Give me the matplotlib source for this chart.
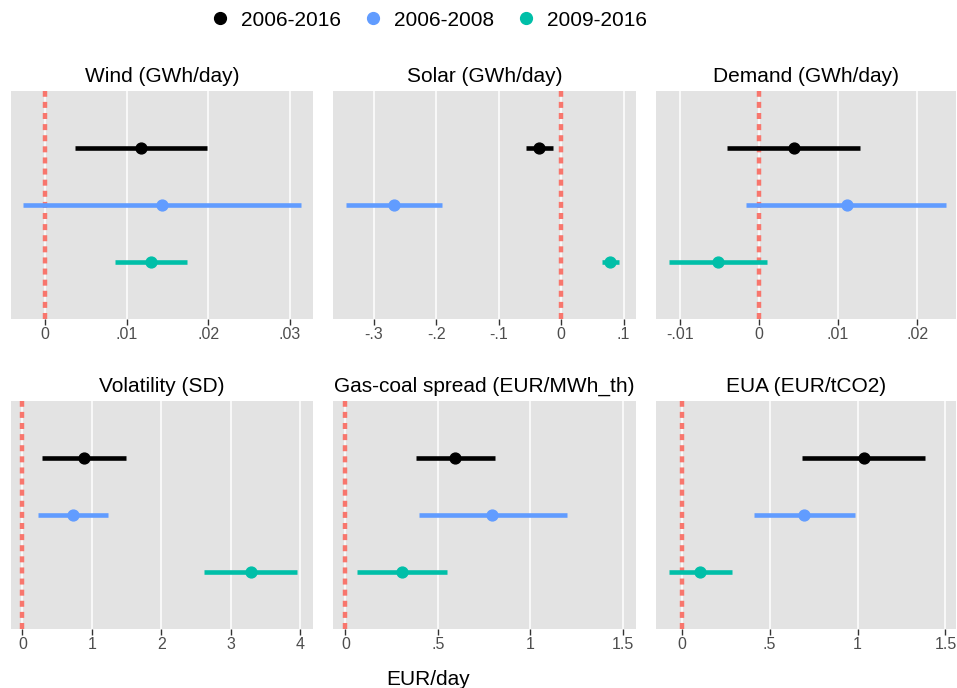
import numpy as np
import matplotlib
matplotlib.use("Agg")
import matplotlib.pyplot as plt
from matplotlib.lines import Line2D

plt.rcParams['font.family'] = ['Liberation Sans', 'DejaVu Sans']

periods = ['2006-2016', '2006-2008', '2009-2016']
period_colors = ['#000000', '#619CFF', '#00BFA8']
period_y = [3, 2, 1]

titles = ['Wind (GWh/day)', 'Solar (GWh/day)', 'Demand (GWh/day)',
          'Volatility (SD)', 'Gas-coal spread (EUR/MWh_th)', 'EUA (EUR/tCO2)']

# point estimate, lower and upper bound, one value per period
wind_est = [0.01175, 0.01428, 0.01294]
wind_lo = [0.00367, -0.00273, 0.00853]
wind_hi = [0.0198, 0.0313, 0.01734]

solar_est = [-0.0352, -0.267, 0.078]
solar_lo = [-0.056, -0.3445, 0.065]
solar_hi = [-0.0123, -0.19, 0.092]

demand_est = [0.00438, 0.01108, -0.00522]
demand_lo = [-0.0040, -0.00164, -0.01142]
demand_hi = [0.01277, 0.02364, 0.00105]

vol_est = [0.886, 0.724, 3.286]
vol_lo = [0.283, 0.23, 2.615]
vol_hi = [1.49, 1.227, 3.95]

gas_est = [0.592, 0.795, 0.308]
gas_lo = [0.381, 0.397, 0.065]
gas_hi = [0.808, 1.2, 0.552]

eua_est = [1.036, 0.696, 0.104]
eua_lo = [0.687, 0.414, -0.074]
eua_hi = [1.385, 0.984, 0.287]

wind_ticks = [0, 0.01, 0.02, 0.03]
wind_labels = ['0', '.01', '.02', '.03']
solar_ticks = [-0.3, -0.2, -0.1, 0, 0.1]
solar_labels = ['-.3', '-.2', '-.1', '0', '.1']
demand_ticks = [-0.01, 0, 0.01, 0.02]
demand_labels = ['-.01', '0', '.01', '.02']
vol_ticks = [0, 1, 2, 3, 4]
vol_labels = ['0', '1', '2', '3', '4']
gas_ticks = [0, 0.5, 1, 1.5]
gas_labels = ['0', '.5', '1', '1.5']
eua_ticks = [0, 0.5, 1, 1.5]
eua_labels = ['0', '.5', '1', '1.5']

panels = [
    (wind_est, wind_lo, wind_hi, wind_ticks, wind_labels, (-0.00416, 0.0328)),
    (solar_est, solar_lo, solar_hi, solar_ticks, solar_labels, (-0.365, 0.12)),
    (demand_est, demand_lo, demand_hi, demand_ticks, demand_labels, (-0.01302, 0.0249)),
    (vol_est, vol_lo, vol_hi, vol_ticks, vol_labels, (-0.163, 4.18)),
    (gas_est, gas_lo, gas_hi, gas_ticks, gas_labels, (-0.0667, 1.572)),
    (eua_est, eua_lo, eua_hi, eua_ticks, eua_labels, (-0.146, 1.56)),
]

W, H = 957, 688
cols = [(11, 313), (333, 636), (656, 956)]
rows = [(91, 319), (401, 629)]

fig = plt.figure(figsize=(W / 100, H / 100), dpi=100)

for i, (est, lo, hi, ticks, labels, xlim) in enumerate(panels):
    x0, x1 = cols[i % 3]
    y0, y1 = rows[i // 3]
    ax = fig.add_axes([x0 / W, (H - y1) / H, (x1 - x0) / W, (y1 - y0) / H])
    ax.set_facecolor('#E3E3E3')
    for s in ax.spines.values():
        s.set_visible(False)
    ax.set_axisbelow(True)
    ax.xaxis.grid(True, color='white', lw=1.1)

    # zero reference line, dashed, under the bars
    zl, = ax.plot([0, 0], [0, 4], color='#F8766D', lw=3.2, zorder=2,
                  dash_capstyle='butt')
    zl.set_dashes([1.35, 1.15])

    for k in range(3):
        ax.hlines(period_y[k], lo[k], hi[k], color=period_colors[k], lw=3.3, zorder=3)
        ax.plot(est[k], period_y[k], 'o', ms=7.8, color=period_colors[k], zorder=3)

    ax.set_xlim(*xlim)
    ax.set_ylim(0, 4)
    ax.set_xticks(ticks)
    ax.set_xticklabels(labels)
    ax.set_yticks([])
    ax.tick_params(axis='x', length=4, width=1, color='#333333',
                   labelcolor='#4D4D4D', labelsize=11.5, pad=2)
    ax.set_title(titles[i], fontsize=15, pad=6.5)

handles = [Line2D([], [], marker='o', ls='none', ms=8.5, color=c) for c in period_colors]
fig.legend(handles, periods, loc='center', bbox_to_anchor=(428 / W, 1 - 20 / H),
           ncol=3, frameon=False, fontsize=15, handlelength=1, handletextpad=0.5,
           columnspacing=1.04)

fig.text(428 / W, 3 / H, 'EUR/day', ha='center', va='baseline', fontsize=15)

fig.savefig('out.png', dpi=100)
